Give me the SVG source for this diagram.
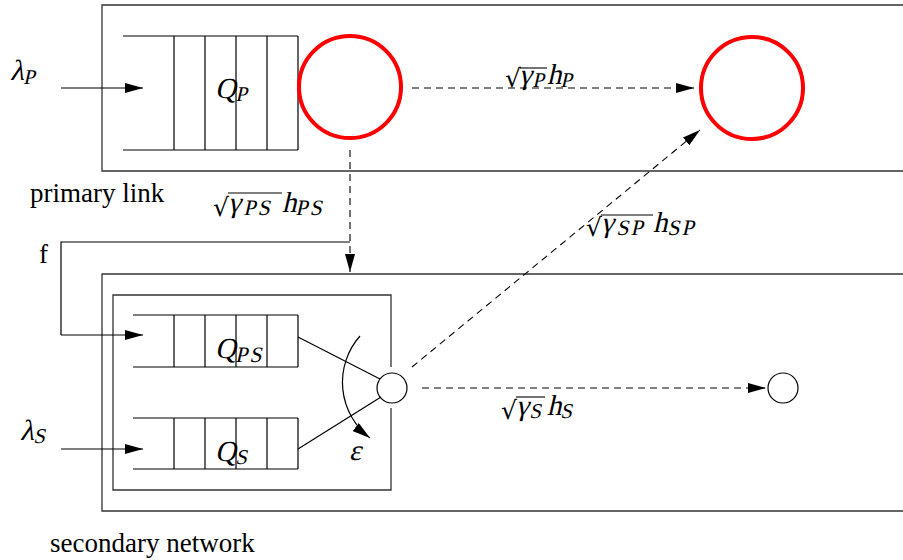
<svg xmlns="http://www.w3.org/2000/svg" width="903" height="560" viewBox="0 0 903 560">
<defs>
<marker id="ah" viewBox="0 0 18 10" refX="18" refY="5" markerWidth="18" markerHeight="10" markerUnits="userSpaceOnUse" orient="auto">
<path d="M0,0 L18,5 L0,10 z" fill="#000"/>
</marker>
</defs>
<style>
.box{fill:none;stroke:#333;stroke-width:1.3}
.q{fill:none;stroke:#000;stroke-width:1.2}
.red{fill:none;stroke:#ff0000;stroke-width:4}
.sc{fill:#fff;stroke:#000;stroke-width:1.2}
.ln{fill:none;stroke:#000;stroke-width:1.2}
.ar{fill:none;stroke:#000;stroke-width:1.2;marker-end:url(#ah)}
.da{fill:none;stroke:#000;stroke-width:1.1;stroke-dasharray:7 5;marker-end:url(#ah)}
.tx{font-family:"Liberation Serif","Times New Roman",serif;font-size:27px;fill:#000}
.m{font-family:"Liberation Serif","Times New Roman",serif;font-size:29px;fill:#000}
.s{font-family:"Liberation Serif","Times New Roman",serif;font-size:21px;fill:#000}
.s2{font-family:"Liberation Serif","Times New Roman",serif;font-size:22px;letter-spacing:2px;fill:#000}
.rad{font-family:"DejaVu Serif",serif;font-size:25px;fill:#000}
.vin{stroke:#000;stroke-width:1.1}
</style>

<g id="primary-link">
<path class="box" d="M903,5 H102 V171 H903"/>
<text class="tx" x="30" y="202">primary link</text>
</g>

<g id="secondary-network">
<path class="box" d="M903,274 H102 V511 H903"/>
<path class="box" d="M391,367 V295 H113 V490 H391 V408"/>
<text class="tx" x="50" y="552">secondary network</text>
</g>

<g id="queue-P">
<path class="q" d="M123,36 H298 M123,150 H298 M174,36 V150 M205,36 V150 M236,36 V150 M267,36 V150 M298,36 V150"/>
<g transform="translate(215,98) skewX(-13)"><text class="m" x="0" y="0">Q</text><text class="s" x="21" y="3">P</text></g>
</g>

<g id="tx-P">
<circle class="red" cx="350" cy="87" r="51"/>
</g>

<g id="rx-P">
<circle class="red" cx="752" cy="88" r="51"/>
</g>

<g id="queue-PS">
<path class="q" d="M133,315 H298 M133,367 H298 M174,315 V367 M205,315 V367 M236,315 V367 M267,315 V367 M298,315 V367"/>
<g transform="translate(215,358) skewX(-13)"><text class="m" x="0" y="0">Q</text><text class="s2" x="21" y="4">PS</text></g>
</g>

<g id="queue-S">
<path class="q" d="M133,418 H298 M133,469 H298 M174,418 V469 M205,418 V469 M236,418 V469 M267,418 V469 M298,418 V469"/>
<g transform="translate(215,461) skewX(-13)"><text class="m" x="0" y="0">Q</text><text class="s" x="21" y="3">S</text></g>
</g>

<g id="tx-S">
<circle class="sc" cx="392" cy="388" r="15"/>
</g>

<g id="rx-S">
<circle class="sc" cx="783" cy="388" r="15"/>
</g>

<g id="connectors">
<path class="ar" d="M61,88 H143"/>
<path class="ar" d="M61,449 H143"/>
<path class="ln" d="M350,242 H61 V335"/>
<path class="ar" d="M61,335 H143"/>
<path class="da" d="M412,88 H694"/>
<path class="da" d="M350,150 V272"/>
<path class="da" d="M412,367 L700,130"/>
<path class="da" d="M422,388 H766"/>
<path class="ln" d="M298,337 L380,379"/>
<path class="ln" d="M298,449 L381,397"/>
<path class="ar" d="M360,336 A70,70 0 0 0 370,438"/>
</g>

<g id="labels">
<g transform="translate(10,80) skewX(-13)"><text class="m" x="0" y="0">λ</text><text class="s" x="14" y="4">P</text></g>
<g transform="translate(20,440) skewX(-13)"><text class="m" x="0" y="0">λ</text><text class="s" x="14" y="3">S</text></g>
<text class="tx" x="39" y="263">f</text>
<g transform="translate(349,460) skewX(-13)"><text class="m" x="0" y="0">ε</text></g>

<text class="rad" x="505" y="87">√</text><line class="vin" x1="520" y1="68" x2="547" y2="68"/>
<g transform="translate(519,84) skewX(-13)"><text class="m" x="0" y="0">γ</text><text class="s" x="14" y="3">P</text><text class="m" x="28" y="0">h</text><text class="s" x="42" y="3">P</text></g>

<text class="rad" x="213" y="216">√</text><line class="vin" x1="228" y1="193" x2="282" y2="193"/>
<g transform="translate(228,212) skewX(-13)"><text class="m" x="0" y="0">γ</text><text class="s2" x="16" y="3">PS</text><text class="m" x="54" y="0">h</text><text class="s2" x="68" y="3">PS</text></g>

<text class="rad" x="586" y="236">√</text><line class="vin" x1="601" y1="215" x2="653" y2="215"/>
<g transform="translate(601,232) skewX(-13)"><text class="m" x="0" y="0">γ</text><text class="s2" x="16" y="3">SP</text><text class="m" x="52" y="0">h</text><text class="s2" x="67" y="3">SP</text></g>

<text class="rad" x="501" y="419">√</text><line class="vin" x1="516" y1="397" x2="545" y2="397"/>
<g transform="translate(516,415) skewX(-13)"><text class="m" x="0" y="0">γ</text><text class="s" x="14" y="3">S</text><text class="m" x="31" y="0">h</text><text class="s" x="45" y="3">S</text></g>
</g>
</svg>
